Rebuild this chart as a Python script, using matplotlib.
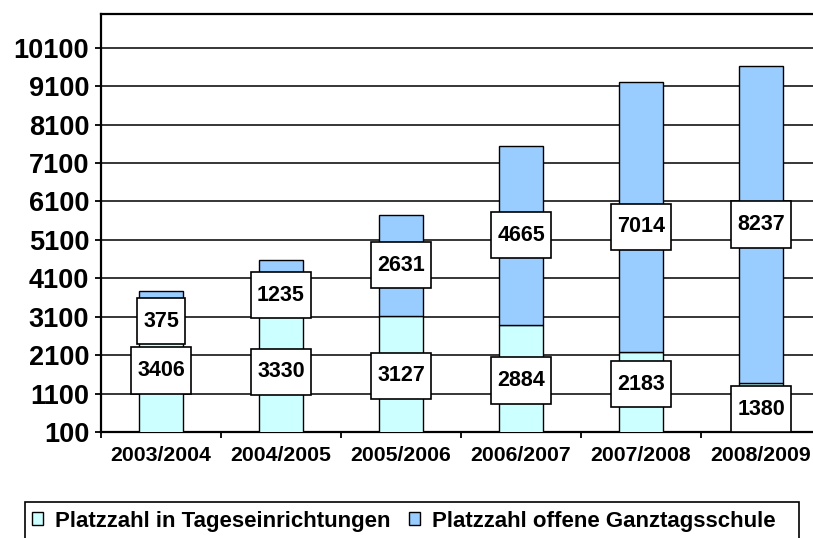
import matplotlib.pyplot as plt
import numpy as np
from matplotlib.path import Path
from matplotlib.patches import Rectangle

plt.rcParams['font.family'] = 'Liberation Sans'
plt.rcParams['font.weight'] = 'bold'

years = ['2003/2004', '2004/2005', '2005/2006', '2006/2007', '2007/2008', '2008/2009']
kita = [3406, 3330, 3127, 2884, 2183, 1380]
ogs = [375, 1235, 2631, 4665, 7014, 8237]
yticks = [100, 1100, 2100, 3100, 4100, 5100, 6100, 7100, 8100, 9100, 10100]

c_kita = '#CCFFFF'
c_ogs = '#99CCFF'

# label boxes: fixed height, small side padding (like excel data labels)
def label_box(x0, y0, w, h, ms):
    hp = 0.27*ms
    bh = 2.15*ms
    cy = y0 + h/2
    verts = [(x0-hp, cy-bh/2), (x0+w+hp, cy-bh/2), (x0+w+hp, cy+bh/2), (x0-hp, cy+bh/2), (x0-hp, cy-bh/2)]
    codes = [Path.MOVETO, Path.LINETO, Path.LINETO, Path.LINETO, Path.CLOSEPOLY]
    return Path(verts, codes)

fig = plt.figure(figsize=(8.13, 5.38), dpi=100)
ax = fig.add_axes([101/813, 106/538, 720/813, 418/538])

x = np.arange(len(years))
w = 0.367
ax.bar(x, kita, w, color=c_kita, edgecolor='black', linewidth=1.0, zorder=3,
       label='Platzzahl in Tageseinrichtungen')
ax.bar(x, ogs, w, bottom=kita, color=c_ogs, edgecolor='black', linewidth=1.0, zorder=3,
       label='Platzzahl offene Ganztagsschule')

# small nudges (points) so boxes sit where the original puts them
nudge_kita = [0, 0, 0, 0, 7, 0]
nudge_ogs = [-17, -8, 0, 0, -7, 0]
for i in range(len(years)):
    ax.annotate(str(kita[i]), (x[i], kita[i]/2), xytext=(0, nudge_kita[i]), textcoords='offset points',
                ha='center', va='center', fontsize=15.5, zorder=5,
                bbox=dict(boxstyle=label_box, fc='white', ec='black', lw=1.2))
    ax.annotate(str(ogs[i]), (x[i], kita[i] + ogs[i]/2), xytext=(0, nudge_ogs[i]), textcoords='offset points',
                ha='center', va='center', fontsize=15.5, zorder=5,
                bbox=dict(boxstyle=label_box, fc='white', ec='black', lw=1.2))

ax.set_xlim(-0.5, 5.5)
ax.set_ylim(100, 10975)
ax.set_yticks(yticks)
ax.set_yticklabels([str(v) for v in yticks], fontsize=19.5)
ax.set_xticks(np.arange(-0.5, 6, 1))
ax.set_xticklabels([])
ax.set_xticks(x, minor=True)
ax.set_xticklabels(years, minor=True, fontsize=15.3)
ax.tick_params(axis='x', which='major', length=4, width=1.3, direction='out')
ax.tick_params(axis='x', which='minor', length=0, pad=10)
ax.tick_params(axis='y', length=4.5, width=1.3, direction='out', pad=4)
ax.yaxis.grid(True, color='black', linewidth=1.1, zorder=0)
ax.set_axisbelow(True)
for s in ['left', 'bottom', 'top']:
    ax.spines[s].set_linewidth(1.6)
ax.spines['right'].set_visible(False)

# legend frame runs off the bottom of the picture
fig.patches.append(Rectangle((25/813, -0.02), 774/813, 1-502/538+0.02, transform=fig.transFigure,
                             fill=False, edgecolor='black', linewidth=1.2))
leg = fig.legend(loc='center left', bbox_to_anchor=(32/813, 1-521/538),
                 ncol=2, fontsize=16, frameon=False,
                 handlelength=0.5, handleheight=0.5, handletextpad=0.55, borderpad=0,
                 borderaxespad=0, columnspacing=0.8)
for h in leg.legend_handles:
    h.set_edgecolor('black')
    h.set_linewidth(1.0)

fig.savefig('out.png', dpi=100)
